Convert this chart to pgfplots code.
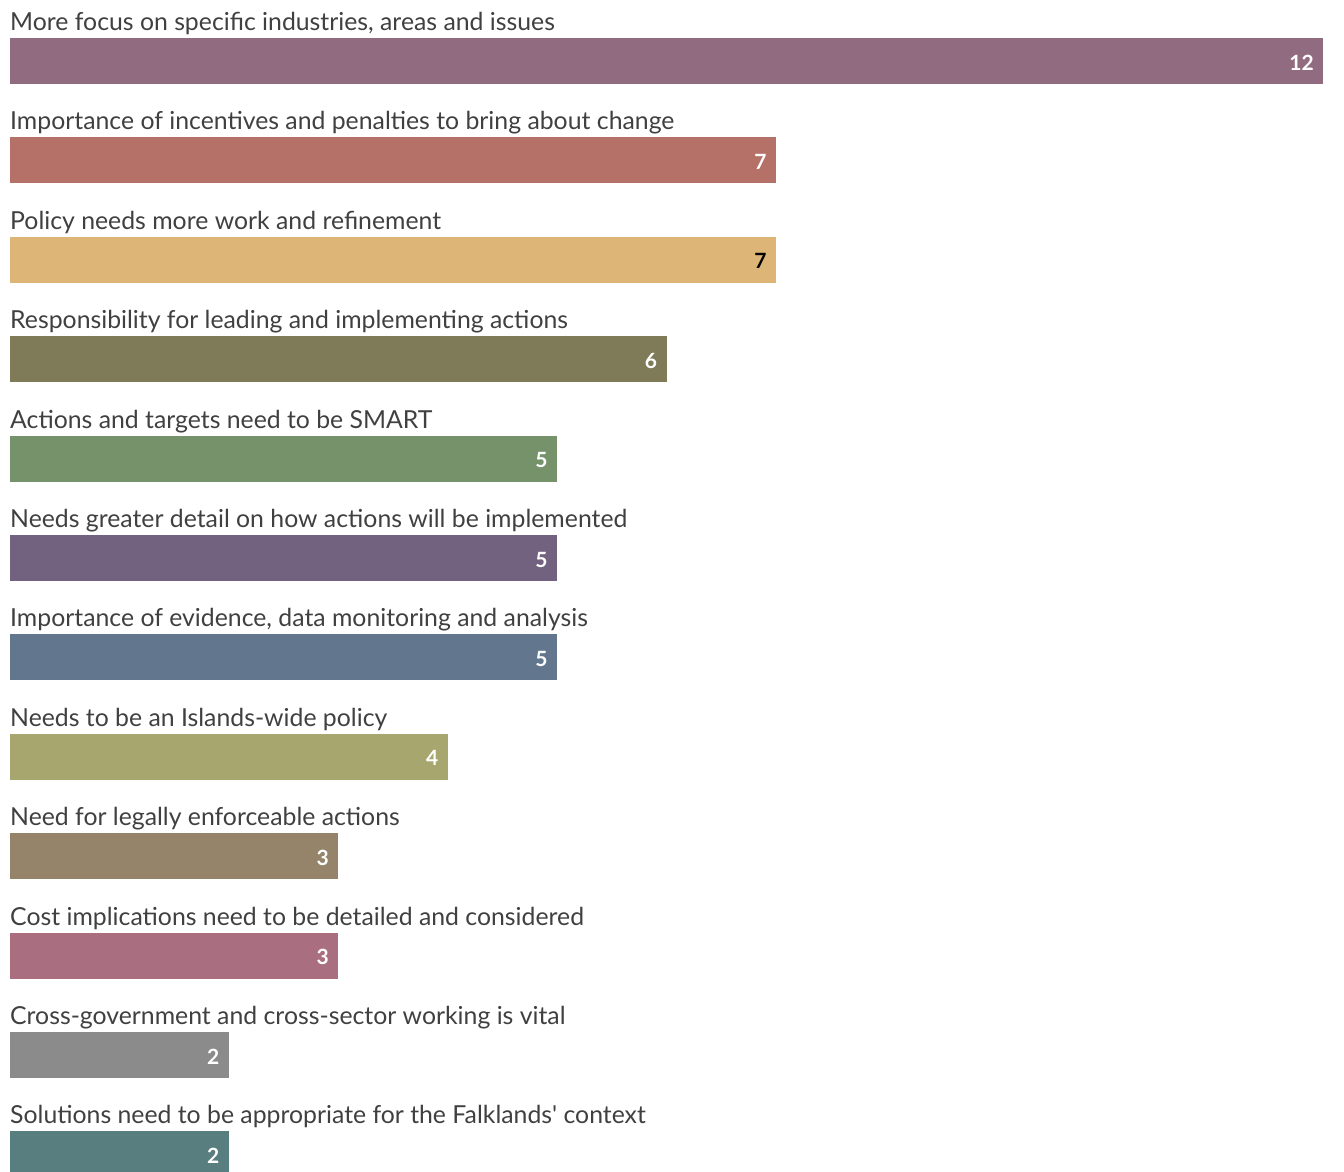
\documentclass[border=0pt]{standalone}
\usepackage{pgfplots}
\pgfplotsset{compat=1.18}
\usepackage{fontspec}
\setmainfont{Lato}
\definecolor{c1}{HTML}{916B7F}
\definecolor{c2}{HTML}{B57068}
\definecolor{c3}{HTML}{DDB577}
\definecolor{c4}{HTML}{7F7A58}
\definecolor{c5}{HTML}{76926A}
\definecolor{c6}{HTML}{72617F}
\definecolor{c7}{HTML}{62778E}
\definecolor{c8}{HTML}{A6A66E}
\definecolor{c9}{HTML}{96846A}
\definecolor{c10}{HTML}{A96E80}
\definecolor{c11}{HTML}{8B8B8B}
\definecolor{c12}{HTML}{587E7F}
\definecolor{textgray}{HTML}{404040}
\begin{document}
\begin{tikzpicture}
\begin{axis}[
  xbar, scale only axis,
  width=1344pt, height=1171pt,
  xmin=-0.0914, xmax=12.19,
  ymin=-0.614, ymax=11.167,
  y dir=reverse,
  axis lines=none,
  bar width=0.463, bar shift=0pt,
  /pgf/number format/assume math mode=true,
  nodes near coords,
  every node near coord/.append style={anchor=east, xshift=-6pt, yshift=-1.5pt, font=\fontsize{21}{24}\selectfont\bfseries, text=white},
]
\path (rel axis cs:0,0) rectangle (rel axis cs:1,1);
\addplot[fill=c1, draw=none] coordinates {(12,0)};
\addplot[fill=c2, draw=none] coordinates {(7,1)};
\addplot[fill=c3, draw=none, every node near coord/.append style={text=black}] coordinates {(7,2)};
\addplot[fill=c4, draw=none] coordinates {(6,3)};
\addplot[fill=c5, draw=none] coordinates {(5,4)};
\addplot[fill=c6, draw=none] coordinates {(5,5)};
\addplot[fill=c7, draw=none] coordinates {(5,6)};
\addplot[fill=c8, draw=none] coordinates {(4,7)};
\addplot[fill=c9, draw=none] coordinates {(3,8)};
\addplot[fill=c10, draw=none] coordinates {(3,9)};
\addplot[fill=c11, draw=none] coordinates {(2,10)};
\addplot[fill=c12, draw=none] coordinates {(2,11)};
\begin{scope}[every node/.style={anchor=base west, inner sep=0pt, text=textgray, font=\fontsize{24.8}{28}\selectfont}]
\node at (axis cs:0,-0.307) {More focus on specific industries, areas and issues};
\node at (axis cs:0,0.693) {Importance of incentives and penalties to bring about change};
\node at (axis cs:0,1.693) {Policy needs more work and refinement};
\node at (axis cs:0,2.693) {Responsibility for leading and implementing actions};
\node at (axis cs:0,3.693) {Actions and targets need to be SMART};
\node at (axis cs:0,4.693) {Needs greater detail on how actions will be implemented};
\node at (axis cs:0,5.693) {Importance of evidence, data monitoring and analysis};
\node at (axis cs:0,6.693) {Needs to be an Islands-wide policy};
\node at (axis cs:0,7.693) {Need for legally enforceable actions};
\node at (axis cs:0,8.693) {Cost implications need to be detailed and considered};
\node at (axis cs:0,9.693) {Cross-government and cross-sector working is vital};
\node at (axis cs:0,10.693) {Solutions need to be appropriate for the Falklands\textquotesingle{} context};
\end{scope}
\end{axis}
\end{tikzpicture}
\end{document}
